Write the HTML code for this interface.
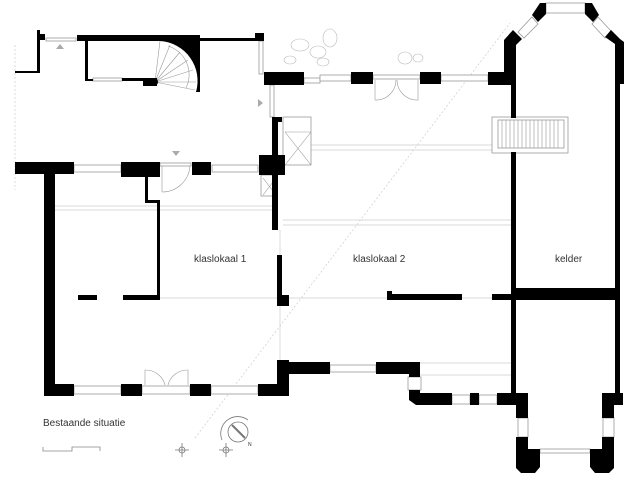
<!DOCTYPE html>
<html><head><meta charset="utf-8"><style>
html,body{margin:0;padding:0;background:#fff;}
svg{display:block;}
text{font-family:"Liberation Sans",sans-serif;fill:#333;}
</style></head><body>
<svg width="640" height="480" viewBox="0 0 640 480" xmlns="http://www.w3.org/2000/svg">
<!-- light guide lines -->
<g stroke="#ccc" stroke-width="0.7" fill="none">
<line x1="55" y1="206" x2="277" y2="206"/><line x1="55" y1="210" x2="277" y2="210"/>
<line x1="283" y1="145" x2="505" y2="145"/><line x1="283" y1="150" x2="505" y2="150"/>
<line x1="283" y1="220" x2="511" y2="220"/><line x1="283" y1="225" x2="511" y2="225"/>
<line x1="160" y1="298" x2="277" y2="298"/><line x1="289" y1="298" x2="387" y2="298"/>
<line x1="462" y1="298" x2="492" y2="298"/>
<line x1="420" y1="363" x2="511" y2="363"/><line x1="420" y1="375" x2="511" y2="375"/>
<line x1="280" y1="230" x2="280" y2="295"/><line x1="280" y1="306" x2="280" y2="360"/>
<line x1="15" y1="45" x2="15" y2="190" stroke-dasharray="2,2"/>
<line x1="195" y1="438" x2="510" y2="23" stroke-dasharray="2,2"/>
</g>
<!-- windows (thin outlines) -->
<g stroke="#999" stroke-width="0.8" fill="#fff">
<rect x="46" y="38" width="30" height="3"/>
<rect x="93" y="78" width="29" height="3"/>
<rect x="259" y="41" width="4" height="33"/>
<rect x="270" y="85" width="4" height="32"/>
<rect x="304" y="78" width="16" height="5"/>
<rect x="74" y="165" width="47" height="7"/>
<rect x="212" y="165" width="46" height="7"/>
<rect x="160" y="163" width="31" height="3"/>
<rect x="74" y="386" width="47" height="8"/>
<rect x="142" y="386" width="48" height="8"/>
<rect x="211" y="386" width="47" height="8"/>
<rect x="320" y="75" width="31" height="6"/>
<rect x="373" y="75" width="47" height="4"/>
<rect x="441" y="75" width="47" height="6"/>
<rect x="330" y="365" width="46" height="7"/>
<rect x="408" y="377" width="13" height="13"/>
<rect x="452" y="395" width="18" height="9"/>
<rect x="479" y="395" width="18" height="9"/>
<rect x="518" y="418" width="10" height="19"/>
<rect x="603" y="418" width="11" height="19"/>
<rect x="540" y="449" width="50" height="4"/>
<rect x="546" y="3" width="39" height="10"/>
<polygon points="518,32 532,17 538,24 524,38"/>
<polygon points="598,17 611,31 605,38 592,24"/>
<rect x="283" y="117" width="28" height="48"/>
<rect x="261" y="175" width="16" height="21"/>
<rect x="492" y="117" width="76" height="36"/>
<rect x="498" y="120" width="66" height="28"/>
</g>
<g stroke="#999" stroke-width="0.6" fill="none">
<line x1="285" y1="132" x2="311" y2="132"/>
<line x1="285" y1="132" x2="311" y2="165"/><line x1="311" y1="132" x2="285" y2="165"/>
<line x1="263" y1="178" x2="276" y2="195"/><line x1="276" y1="178" x2="263" y2="195"/>
<path d="M502,120 v28 M506,120 v28 M510,120 v28 M514,120 v28 M518,120 v28 M522,120 v28 M526,120 v28 M530,120 v28 M534,120 v28 M538,120 v28 M542,120 v28 M546,120 v28 M550,120 v28 M554,120 v28 M558,120 v28"/>
<path d="M162,166 v26 A28,28 0 0 0 190,166"/>
<path d="M375,80 v20 A20,20 0 0 0 396,80 M418,80 v20 A20,20 0 0 1 397,80"/>
<path d="M145,385 v-15 A20,20 0 0 1 165,385 M188,385 v-15 A20,20 0 0 0 168,385"/>
<path d="M155,82 L160,41 M155,82 L170,45 M155,82 L180,52 M155,82 L188,60 M155,82 L193,70 M155,82 L196,82 M155,82 L195,90"/>
<path d="M168,46 A30,30 0 0 1 186,88"/>
<g stroke="#bbb"><ellipse cx="300" cy="45" rx="9" ry="6"/><ellipse cx="318" cy="52" rx="8" ry="6"/><ellipse cx="330" cy="38" rx="7" ry="9"/><ellipse cx="290" cy="60" rx="6" ry="4"/><ellipse cx="405" cy="58" rx="7" ry="6"/><ellipse cx="418" cy="58" rx="5" ry="4"/><ellipse cx="323" cy="62" rx="6" ry="4"/></g>
</g>
<!-- walls -->
<g fill="#000">
<rect x="37" y="30" width="3" height="43"/><rect x="15" y="71" width="25" height="2"/><rect x="40" y="34" width="5" height="6"/>
<rect x="77" y="35" width="123" height="6"/><rect x="85" y="41" width="3" height="40"/><rect x="85" y="79" width="8" height="2"/>
<rect x="122" y="78" width="28" height="3"/><rect x="143" y="78" width="14" height="8"/><circle cx="154" cy="82" r="4"/>
<path d="M160,41 A40,40 0 0 1 196,92 L200,92 L200,35 L160,35 Z"/>
<rect x="200" y="38" width="60" height="3"/><rect x="255" y="33" width="9" height="8"/>
<rect x="264" y="72" width="40" height="13"/>
<rect x="272" y="117" width="6" height="113"/><rect x="272" y="117" width="10" height="5"/>
<rect x="259" y="155" width="26" height="20"/>
<rect x="15" y="162" width="59" height="12"/><rect x="121" y="162" width="39" height="15"/>
<rect x="192" y="162" width="19" height="13"/>
<rect x="44" y="174" width="11" height="222"/>
<rect x="145" y="175" width="3" height="28"/><rect x="145" y="200" width="15" height="3"/><rect x="157" y="200" width="3" height="100"/>
<rect x="78" y="295" width="19" height="5"/><rect x="123" y="295" width="37" height="5"/>
<rect x="277" y="255" width="5" height="40"/><rect x="277" y="295" width="12" height="11"/>
<rect x="44" y="384" width="30" height="12"/><rect x="121" y="384" width="21" height="12"/>
<rect x="190" y="384" width="21" height="12"/><rect x="258" y="384" width="31" height="12"/>
<rect x="277" y="360" width="12" height="36"/><rect x="282" y="362" width="48" height="12"/>
<rect x="376" y="362" width="44" height="12"/><rect x="409" y="362" width="11" height="15"/>
<path d="M409,390 h11 v3 h32 v12 h-36 l-7,-5 Z"/>
<rect x="470" y="393" width="9" height="12"/><rect x="497" y="393" width="31" height="12"/>
<rect x="516" y="393" width="12" height="25"/>
<path d="M516,437 h12 v12 h12 v18 l-5,6 h-14 l-5,-5 Z"/>
<path d="M614,437 h-12 v12 h-12 v18 l5,6 h14 l5,-5 Z"/>
<rect x="602" y="393" width="12" height="25"/><rect x="602" y="393" width="21" height="12"/>
<rect x="351" y="72" width="22" height="12"/><rect x="420" y="72" width="21" height="12"/>
<rect x="488" y="72" width="28" height="13"/>
<rect x="511" y="85" width="5" height="33"/><rect x="511" y="152" width="5" height="242"/>
<polygon points="504,40 513,30 522,39 516,45 516,85 504,85"/>
<polygon points="532,15 540,3 546,3 546,14 538,22"/>
<polygon points="585,3 592,3 599,15 593,22 585,14"/>
<polygon points="611,30 620,39 624,42 624,84 615,84 615,44 605,37"/>
<rect x="615" y="84" width="5" height="310"/>
<rect x="513" y="288" width="103" height="12"/>
<rect x="387" y="294" width="75" height="6"/><rect x="387" y="291" width="5" height="5"/>
<rect x="492" y="294" width="21" height="6"/>
</g>
<!-- arrows -->
<g fill="#aaa"><polygon points="56,49 64,49 60,44"/><polygon points="172,151 180,151 176,156"/><polygon points="258,99 258,107 263,103"/></g>
<!-- labels -->
<text x="194" y="262" font-size="10">klaslokaal 1</text>
<text x="353" y="262" font-size="10">klaslokaal 2</text>
<text x="555" y="262" font-size="10">kelder</text>
<text x="43" y="426" font-size="10">Bestaande situatie</text>
<!-- scale bar -->
<path d="M43,447 v4 h29 v-4 h28 v4" stroke="#888" stroke-width="0.8" fill="none"/>
<!-- compass -->
<g stroke="#777" stroke-width="0.8" fill="none">
<circle cx="238" cy="432" r="10"/><path d="M222,440 A17,17 0 0 1 248,420"/>
<line x1="232" y1="425" x2="245" y2="438" stroke-width="2"/>
<circle cx="182" cy="450" r="3"/><path d="M175,450 h14 M182,443 v14"/>
<circle cx="226" cy="450" r="3"/><path d="M219,450 h14 M226,443 v14"/>
</g>
<text x="248" y="446" font-size="5">N</text>
</svg>
</body></html>
